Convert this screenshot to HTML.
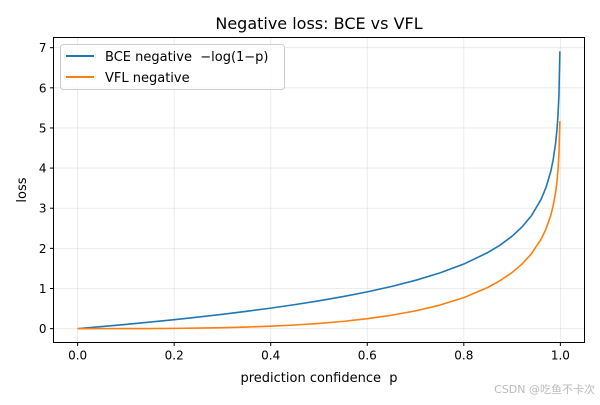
<!DOCTYPE html>
<html><head><meta charset="utf-8"><style>
body{margin:0;background:#fff;}
svg text{font-family:"DejaVu Sans","Liberation Sans","Noto Sans CJK SC",sans-serif;white-space:pre;}
</style></head><body>
<svg id="chart" width="600" height="400" xmlns="http://www.w3.org/2000/svg" xml:space="preserve">
<rect width="600" height="400" fill="#fff"/>
<text x="319" y="29" text-anchor="middle" font-size="16">Negative loss: BCE vs VFL</text>
<g id="grid"></g>
<g id="series"></g>
<rect x="53.5" y="37.5" width="531" height="305" fill="none" stroke="#000" stroke-width="1"/>
<g id="ticks"></g>
<text x="319" y="382" text-anchor="middle" font-size="13">prediction confidence  p</text>
<text transform="translate(26,190) rotate(-90)" text-anchor="middle" font-size="13">loss</text>
<g>
<rect x="60.5" y="44.5" width="224" height="45" rx="3" fill="#fff" fill-opacity="0.8" stroke="#ccc"/>
<line x1="66" y1="56" x2="94" y2="56" stroke="#1f77b4" stroke-width="2"/>
<text x="105" y="61" font-size="13">BCE negative  −log(1−p)</text>
<line x1="66" y1="77" x2="94" y2="77" stroke="#ff7f0e" stroke-width="2"/>
<text x="105" y="82" font-size="13">VFL negative</text>
</g>
<text x="595" y="393" text-anchor="end" font-size="11" fill="#bbb">CSDN @吃鱼不卡次</text>
</svg>
<script>
const pValues=[0,0.05,0.1,0.15,0.2,0.25,0.3,0.35,0.4,0.45,0.5,0.55,0.6,0.65,0.7,0.75,0.8,0.85,0.875,0.9,0.92,0.94,0.96,0.97,0.98,0.985,0.99,0.993,0.995,0.997,0.999];
const bceValues=[0,0.051,0.105,0.163,0.223,0.288,0.357,0.431,0.511,0.598,0.693,0.799,0.916,1.050,1.204,1.386,1.609,1.897,2.079,2.303,2.526,2.813,3.219,3.507,3.912,4.200,4.605,4.962,5.298,5.809,6.908];
const vflValues=[0,0.0001,0.0008,0.0028,0.0067,0.0135,0.0241,0.0396,0.0613,0.0908,0.130,0.181,0.247,0.333,0.442,0.585,0.772,1.028,1.194,1.399,1.603,1.864,2.225,2.475,2.818,3.056,3.385,3.669,3.934,4.331,5.171];
const xTicks=[0,0.2,0.4,0.6,0.8,1.0];
const xTickLabels=["0.0","0.2","0.4","0.6","0.8","1.0"];
const yTicks=[0,1,2,3,4,5,6,7];
const yTickLabels=["0","1","2","3","4","5","6","7"];
const NS="http://www.w3.org/2000/svg";
const L=53.5,R=584.5,T=37.5,B=342.5;
const xmin=-0.05,xmax=1.05;
const ymax=Math.max(...bceValues);
const ymin=-0.05*ymax, ytop=ymax*1.05;
const sx=v=>L+(v-xmin)/(xmax-xmin)*(R-L);
const sy=v=>B-(v-ymin)/(ytop-ymin)*(B-T);
const grid=document.getElementById('grid'),ticks=document.getElementById('ticks'),ser=document.getElementById('series');
function mk(tag,attrs,parent){const e=document.createElementNS(NS,tag);for(const k in attrs)e.setAttribute(k,attrs[k]);parent.appendChild(e);return e;}
xTicks.forEach((v,i)=>{
 const x=sx(v);
 const g=mk('line',{x1:x,x2:x,y1:T,y2:B,stroke:'#b0b0b0','stroke-opacity':0.3,'stroke-width':0.8},grid);
 
 
 mk('line',{x1:x,x2:x,y1:B,y2:B+3.5,stroke:'#000'},ticks);
 const t=mk('text',{x:x,y:B+17,'text-anchor':'middle','font-size':12},ticks);
 
 
 t.textContent=xTickLabels[i];
});
yTicks.forEach((v,i)=>{
 const y=sy(v);
 const g=mk('line',{x1:L,x2:R,y1:y,y2:y,stroke:'#b0b0b0','stroke-opacity':0.3,'stroke-width':0.8},grid);
 
 
 mk('line',{x1:L-3.5,x2:L,y1:y,y2:y,stroke:'#000'},ticks);
 const t=mk('text',{x:L-7,y:y+4.5,'text-anchor':'end','font-size':12},ticks);
 
 
 t.textContent=yTickLabels[i];
});
function line(vals,color,name){
 const d=pValues.map((p,i)=>(i?'L':'M')+sx(p).toFixed(2)+','+sy(vals[i]).toFixed(2)).join('');
 const e=mk('path',{d:d,fill:'none',stroke:color,'stroke-width':1.6,'stroke-linejoin':'round'},ser);
 
 
}
line(bceValues,'#1f77b4','bce-line');
line(vflValues,'#ff7f0e','vfl-line');
</script>
</body></html>
